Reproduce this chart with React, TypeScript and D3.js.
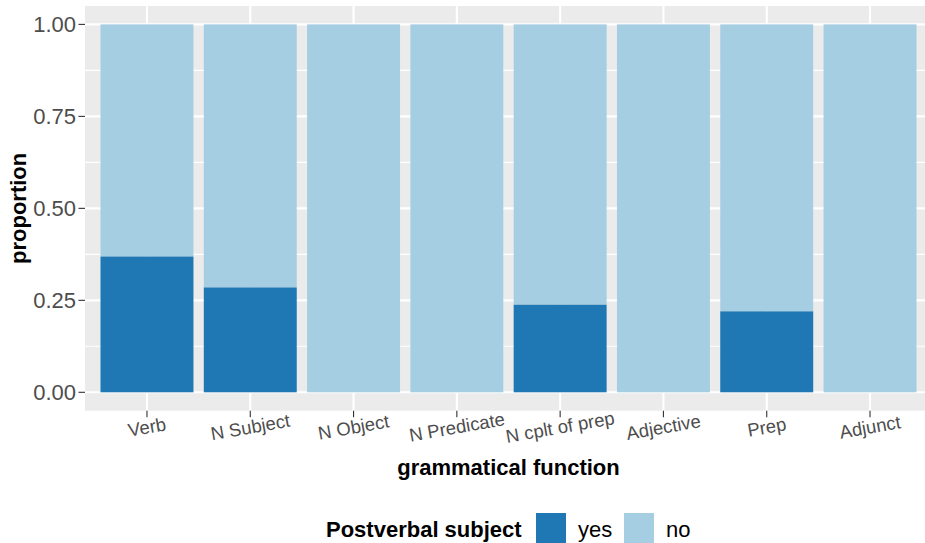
import React from "react";
import * as d3 from "d3";

const categories = ["Verb", "N Subject", "N Object", "N Predicate", "N cplt of prep", "Adjective", "Prep", "Adjunct"];
const yesProportion = [0.369, 0.285, 0, 0, 0.238, 0, 0.22, 0];
const yTicks = [0, 0.25, 0.5, 0.75, 1.0];
const yMinorTicks = [0.125, 0.375, 0.625, 0.875];
const legendLabels = ["yes", "no"];
const colors = { yes: "#1F78B4", no: "#A6CEE3" };

const W = 925;
const H = 543;
const panel = { left: 85, right: 932, top: 6, bottom: 410.7 };
const FONT = "'Liberation Sans', Arial, Helvetica, sans-serif";

export default function App() {
  const x = d3
    .scaleBand<string>()
    .domain(categories)
    .range([panel.left, panel.right])
    .paddingInner(0.1)
    .paddingOuter(0.15);
  const y = d3.scaleLinear().domain([-0.05, 1.05]).range([panel.bottom, panel.top]);
  const center = (c: string) => (x(c) as number) + x.bandwidth() / 2;

  const legendY = 513;
  const keySize = 30;

  return (
    <div style={{ position: "absolute", left: 0, top: 0 }}>
      <svg width={W} height={H} style={{ display: "block", fontFamily: FONT }}>
        <rect x={0} y={0} width={W} height={H} fill="#FFFFFF" />
        <rect
          x={panel.left}
          y={panel.top}
          width={panel.right - panel.left}
          height={panel.bottom - panel.top}
          fill="#EBEBEB"
        />
        {yMinorTicks.map((t) => (
          <line key={"mn" + t} x1={panel.left} x2={panel.right} y1={y(t)} y2={y(t)} stroke="#FFFFFF" strokeWidth={1.1} />
        ))}
        {yTicks.map((t) => (
          <line key={"mj" + t} x1={panel.left} x2={panel.right} y1={y(t)} y2={y(t)} stroke="#FFFFFF" strokeWidth={2.1} />
        ))}
        {categories.map((c) => (
          <line key={"vx" + c} x1={center(c)} x2={center(c)} y1={panel.top} y2={panel.bottom} stroke="#FFFFFF" strokeWidth={2.1} />
        ))}
        {categories.map((c, i) => {
          const v = yesProportion[i];
          return (
            <g key={"bar" + c}>
              <rect x={x(c)} width={x.bandwidth()} y={y(1)} height={y(v) - y(1)} fill={colors.no} />
              {v > 0 && <rect x={x(c)} width={x.bandwidth()} y={y(v)} height={y(0) - y(v)} fill={colors.yes} />}
            </g>
          );
        })}
        {/* y axis */}
        {yTicks.map((t) => (
          <g key={"yt" + t}>
            <line x1={panel.left - 6.5} x2={panel.left} y1={y(t)} y2={y(t)} stroke="#333333" strokeWidth={1.1} />
            <text
              x={panel.left - 9}
              y={y(t)}
              textAnchor="end"
              dominantBaseline="central"
              fontSize={22}
              fill="#4D4D4D"
            >
              {d3.format(".2f")(t)}
            </text>
          </g>
        ))}
        {/* x axis */}
        {categories.map((c) => (
          <g key={"xt" + c}>
            <line x1={center(c)} x2={center(c)} y1={panel.bottom} y2={panel.bottom + 6.5} stroke="#333333" strokeWidth={1.1} />
            <text
              transform={`translate(${center(c)},${427}) rotate(-10)`}
              textAnchor="middle"
              dominantBaseline="central"
              fontSize={18.5}
              fill="#4D4D4D"
            >
              {c}
            </text>
          </g>
        ))}
        <text
          x={(panel.left + panel.right) / 2}
          y={475}
          textAnchor="middle"
          fontSize={22}
          fontWeight="bold"
          fill="#000000"
        >
          grammatical function
        </text>
        <text
          transform={`translate(${26},${(panel.top + panel.bottom) / 2}) rotate(-90)`}
          textAnchor="middle"
          fontSize={22}
          fontWeight="bold"
          fill="#000000"
        >
          proportion
        </text>
        {/* legend */}
        <text x={326} y={537} fontSize={22} fontWeight="bold" fill="#000000">
          Postverbal subject
        </text>
        {legendLabels.map((lab, i) => {
          const kx = i === 0 ? 536 : 624;
          return (
            <g key={"lg" + lab}>
              <rect x={kx} y={legendY} width={keySize} height={keySize} fill={lab === "yes" ? colors.yes : colors.no} />
              <text x={kx + keySize + 12} y={537} fontSize={22} fill="#000000">
                {lab}
              </text>
            </g>
          );
        })}
      </svg>
    </div>
  );
}
